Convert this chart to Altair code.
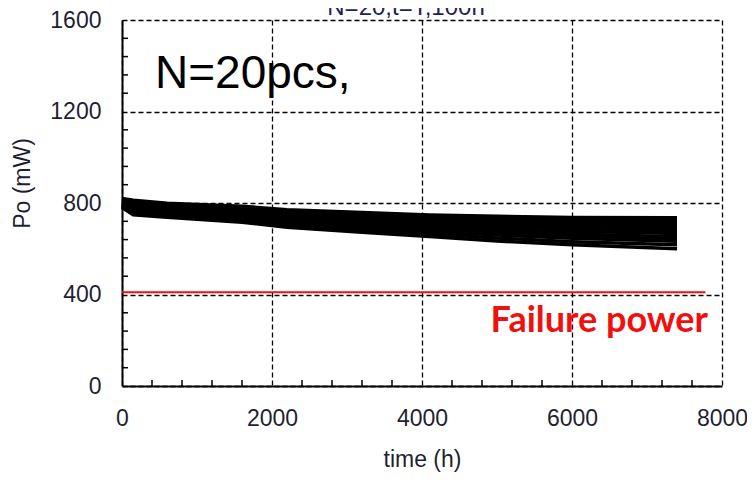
import altair as alt
import pandas as pd

# ---- data ----
times = [0, 150, 600, 1600, 2200, 3200, 4100, 5000, 6000, 7400]
s01 = [820, 812, 799, 786, 770, 758, 748, 742, 737, 735]
s02 = [815, 806, 792, 779, 764, 752, 742, 735, 728, 724]
s03 = [812, 800, 787, 772, 758, 745, 734, 726, 718, 712]
s04 = [808, 795, 781, 766, 751, 738, 726, 717, 708, 701]
s05 = [805, 790, 776, 760, 745, 730, 718, 708, 698, 690]
s06 = [802, 784, 770, 754, 738, 722, 709, 698, 688, 679]
s07 = [798, 778, 764, 747, 730, 713, 700, 688, 677, 667]
s08 = [794, 770, 757, 739, 721, 703, 689, 676, 664, 653]
s09 = [791, 765, 752, 733, 715, 697, 682, 668, 655, 643]
s10 = [788, 760, 748, 728, 709, 690, 675, 660, 646, 633]
s11 = [784, 754, 743, 722, 702, 681, 664, 647, 631, 618]
s12 = [780, 748, 738, 716, 694, 672, 653, 634, 617, 600]
all_series = [s01, s02, s03, s04, s05, s06, s07, s08, s09, s10, s11, s12]

x_major = [0, 2000, 4000, 6000, 8000]
y_major = [0, 400, 800, 1200, 1600]
x_minor = [400, 800, 1200, 1600, 2400, 2800, 3200, 3600, 4400, 4800, 5200,
           5600, 6400, 6800, 7200, 7600]
y_minor = [80, 160, 240, 320, 480, 560, 640, 720, 880, 960, 1040, 1120,
           1280, 1360, 1440, 1520]
failure_level = [410]
failure_end = [7780]

title_text = "N=20,t=T,100h"
label_text = "N=20pcs,"
failure_text = "Failure power"

rows = []
for i, s in enumerate(all_series):
    for t, v in zip(times, s):
        rows.append({"t": t, "v": v, "sid": i})
df = pd.DataFrame(rows)

xscale = alt.Scale(domain=[0, 8000], nice=False, zero=False)
yscale = alt.Scale(domain=[0, 1600], nice=False, zero=False)

FONT = "Liberation Sans"
LBL = "#1f1f33"

xaxis = alt.Axis(values=x_major, format="d", grid=True, gridDash=[5, 3],
                 gridColor="black", gridWidth=1.3, gridOpacity=1, ticks=False,
                 domainColor="black", domainWidth=2, labelFontSize=23,
                 labelFont=FONT, labelColor=LBL, labelPadding=21,
                 labelFlush=False, title="time (h)", titleFont=FONT,
                 titleFontSize=23, titleFontWeight="normal", titleColor=LBL,
                 titlePadding=18)
yaxis = alt.Axis(values=y_major, format="d", grid=True, gridDash=[5, 3],
                 gridColor="black", gridWidth=1.3, gridOpacity=1, ticks=False,
                 domainColor="black", domainWidth=2, labelFontSize=23,
                 labelFont=FONT, labelColor=LBL, labelPadding=21,
                 labelFlush=False, title="Po (mW)", titleFont=FONT,
                 titleFontSize=23, titleFontWeight="normal", titleColor=LBL,
                 titleAngle=-90, titleX=-100, titleY=163, titleAlign="center",
                 titleBaseline="middle")

lines = alt.Chart(df).mark_line(color="black", strokeWidth=3.5).encode(
    x=alt.X("t:Q", scale=xscale, axis=xaxis),
    y=alt.Y("v:Q", scale=yscale, axis=yaxis),
    detail="sid:N",
)

fail_df = pd.DataFrame({"t": [0], "t2": failure_end, "v": failure_level})
fail_line = alt.Chart(fail_df).mark_rule(color="#f01010", strokeWidth=2).encode(
    x="t:Q", x2="t2:Q", y="v:Q"
)

xm_df = pd.DataFrame({"t": x_minor})
xm = alt.Chart(xm_df).mark_rule(color="black", strokeWidth=1.5).encode(
    x="t:Q", y=alt.value(366), y2=alt.value(360)
)
ym_df = pd.DataFrame({"v": y_minor})
ym = alt.Chart(ym_df).mark_rule(color="black", strokeWidth=1.5).encode(
    y="v:Q", x=alt.value(0), x2=alt.value(6)
)

one = pd.DataFrame({"k": [0]})
n_text = alt.Chart(one).mark_text(font=FONT, fontSize=46, align="left",
                                  baseline="alphabetic", color="black").encode(
    x=alt.value(33), y=alt.value(68), text=alt.value(label_text)
)
f_text = alt.Chart(one).mark_text(font="Lato", fontSize=36, fontWeight="bold",
                                  align="right", baseline="alphabetic",
                                  color="#f01010").encode(
    x=alt.value(586), y=alt.value(312), text=alt.value(failure_text)
)
t_text = alt.Chart(one).mark_text(font=FONT, fontSize=24, align="center",
                                  baseline="alphabetic", color="#1f1f55").encode(
    x=alt.value(284), y=alt.value(-5), text=alt.value(title_text)
)

chart = alt.layer(lines, fail_line, xm, ym, n_text, f_text, t_text).properties(
    width=600, height=366,
    autosize=alt.AutoSizeParams(type="none"),
    padding={"left": 114, "top": 12, "right": 25, "bottom": 96},
    background="white",
).configure_view(strokeWidth=0)

chart.save("out.html", embed_options={"renderer": "svg", "actions": False})
